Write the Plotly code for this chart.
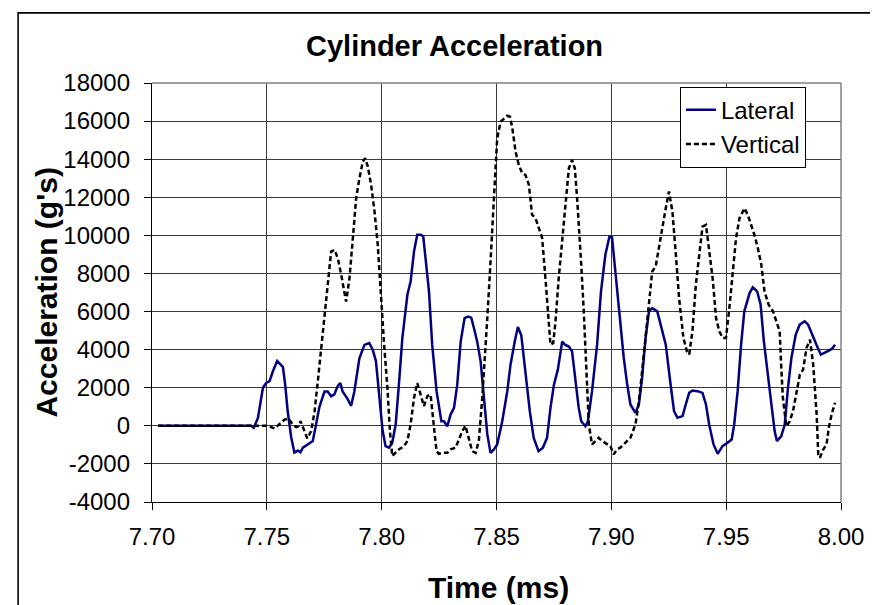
import plotly.graph_objects as go

# ---- data ----
lateral_time = [7.7026, 7.7432, 7.7443, 7.7461, 7.7483, 7.7497, 7.7512, 7.7526, 7.7545, 7.7559,
                7.7570, 7.7580, 7.7591, 7.7606, 7.7620, 7.7635, 7.7646, 7.7657, 7.7671, 7.7686,
                7.7700, 7.7714, 7.7729, 7.7751, 7.7765, 7.7780, 7.7794, 7.7809, 7.7820, 7.7830,
                7.7852, 7.7867, 7.7881, 7.7903, 7.7925, 7.7946, 7.7961, 7.7975, 7.7990, 7.8004,
                7.8017, 7.8032, 7.8046, 7.8061, 7.8075, 7.8090, 7.8112, 7.8126, 7.8141, 7.8155,
                7.8170, 7.8181, 7.8191, 7.8206, 7.8220, 7.8239, 7.8260, 7.8271, 7.8286, 7.8300,
                7.8315, 7.8329, 7.8344, 7.8361, 7.8376, 7.8390, 7.8402, 7.8416, 7.8431, 7.8445,
                7.8460, 7.8474, 7.8489, 7.8503, 7.8525, 7.8547, 7.8561, 7.8579, 7.8593, 7.8608,
                7.8626, 7.8645, 7.8662, 7.8683, 7.8702, 7.8720, 7.8735, 7.8750, 7.8767, 7.8786,
                7.8798, 7.8815, 7.8829, 7.8844, 7.8858, 7.8869, 7.8887, 7.8898, 7.8916, 7.8938,
                7.8955, 7.8974, 7.8992, 7.9003, 7.9012, 7.9025, 7.9039, 7.9054, 7.9069, 7.9083,
                7.9105, 7.9120, 7.9134, 7.9149, 7.9164, 7.9178, 7.9200, 7.9215, 7.9237, 7.9258,
                7.9273, 7.9288, 7.9310, 7.9324, 7.9339, 7.9353, 7.9375, 7.9397, 7.9412, 7.9426,
                7.9445, 7.9463, 7.9484, 7.9506, 7.9524, 7.9535, 7.9550, 7.9565, 7.9579, 7.9602,
                7.9616, 7.9635, 7.9650, 7.9664, 7.9679, 7.9696, 7.9711, 7.9721, 7.9740, 7.9755,
                7.9769, 7.9784, 7.9803, 7.9820, 7.9842, 7.9857, 7.9874, 7.9893, 7.9912, 7.9930,
                7.9947, 7.9962, 7.9974]
lateral_accel = [0, 0, -100, 400, 2000, 2250, 2350, 2850, 3400, 3250,
                 3100, 2150, 750, -600, -1400, -1300, -1400, -1150, -1050, -900,
                 -800, 50, 1000, 1800, 1800, 1550, 1650, 2100, 2250, 1800,
                 1400, 1050, 1800, 3550, 4250, 4350, 4000, 3400, 1650, -250,
                 -1066, -1150, -890, 70, 2160, 4610, 6880, 7580, 9170, 10030,
                 10030, 9950, 8800, 7060, 4260, 1820, 240, 240, -20, 590,
                 940, 2150, 4420, 5660, 5740, 5680, 5120, 4420, 3370, 1450,
                 -450, -1420, -1240, -980, 240, 1820, 3210, 4400, 5190, 4750,
                 2830, 770, -630, -1330, -1150, -630, 940, 2150, 2950, 4420,
                 4260, 4160, 3910, 2510, 940, 240, -20, 240, 1820, 4260,
                 7060, 8980, 9950, 9900, 8750, 7300, 5680, 3580, 2180, 1120,
                 680, 1120, 2520, 4610, 6010, 6180, 6010, 5310, 4260, 2170,
                 770, 420, 510, 1120, 1730, 1850, 1820, 1730, 1120, 70,
                 -980, -1470, -1070, -890, -720, 70, 1820, 4260, 6010, 6970,
                 7270, 7060, 6360, 4450, 2880, 1120, -280, -800, -540, 70,
                 1990, 3560, 4790, 5310, 5490, 5310, 4790, 4260, 3740, 3830,
                 3950, 4060, 4260]

vertical_time = [7.7026, 7.7505, 7.7534, 7.7555, 7.7577, 7.7595, 7.7613, 7.7628, 7.7638, 7.7647,
                 7.7657, 7.7667, 7.7676, 7.7693, 7.7708, 7.7722, 7.7737, 7.7751, 7.7766, 7.7780,
                 7.7795, 7.7809, 7.7824, 7.7835, 7.7845, 7.7860, 7.7874, 7.7889, 7.7903, 7.7918,
                 7.7928, 7.7940, 7.7954, 7.7969, 7.7983, 7.7996, 7.8011, 7.8025, 7.8036, 7.8046,
                 7.8061, 7.8075, 7.8097, 7.8112, 7.8126, 7.8141, 7.8155, 7.8170, 7.8184, 7.8199,
                 7.8213, 7.8228, 7.8239, 7.8249, 7.8264, 7.8286, 7.8300, 7.8322, 7.8336, 7.8351,
                 7.8365, 7.8380, 7.8394, 7.8409, 7.8423, 7.8438, 7.8448, 7.8460, 7.8474, 7.8489,
                 7.8503, 7.8518, 7.8532, 7.8547, 7.8559, 7.8569, 7.8583, 7.8597, 7.8612, 7.8626,
                 7.8641, 7.8655, 7.8670, 7.8684, 7.8699, 7.8713, 7.8723, 7.8735, 7.8747, 7.8757,
                 7.8771, 7.8786, 7.8800, 7.8815, 7.8829, 7.8841, 7.8851, 7.8860, 7.8869, 7.8880,
                 7.8892, 7.8902, 7.8916, 7.8931, 7.8945, 7.8960, 7.8982, 7.8996, 7.9010, 7.9025,
                 7.9039, 7.9054, 7.9069, 7.9083, 7.9105, 7.9120, 7.9134, 7.9149, 7.9164, 7.9178,
                 7.9193, 7.9207, 7.9222, 7.9237, 7.9251, 7.9266, 7.9280, 7.9295, 7.9314, 7.9329,
                 7.9339, 7.9353, 7.9368, 7.9383, 7.9397, 7.9412, 7.9426, 7.9441, 7.9456, 7.9470,
                 7.9485, 7.9499, 7.9514, 7.9529, 7.9543, 7.9558, 7.9580, 7.9594, 7.9609, 7.9623,
                 7.9638, 7.9653, 7.9667, 7.9685, 7.9704, 7.9718, 7.9733, 7.9740, 7.9747, 7.9762,
                 7.9777, 7.9791, 7.9806, 7.9821, 7.9835, 7.9850, 7.9865, 7.9879, 7.9894, 7.9901,
                 7.9908, 7.9923, 7.9937, 7.9947, 7.9959, 7.9974]
vertical_accel = [0, 0, -140, 70, 330, 380, 70, -70, -20, 245,
                  -70, -450, -660, -280, 770, 2340, 4090, 5840, 7760, 9150,
                  9240, 8800, 7930, 7060, 6520, 7760, 9850, 11950, 12990, 13870,
                  14050, 13610, 12650, 11250, 9500, 6900, 4200, 2000, -280, -1590,
                  -1420, -1240, -1070, -800, 70, 1470, 2250, 1640, 1030, 1560,
                  1640, -100, -1330, -1470, -1420, -1420, -1240, -1150, -720, -280,
                  0, -630, -1330, -1420, -800, 1470, 3210, 5660, 8630, 12130,
                  15090, 15970, 16140, 16280, 16230, 15620, 14400, 13700, 13260, 13170,
                  12650, 11080, 10900, 10380, 9850, 7760, 6010, 4260, 4350, 5490,
                  7760, 9850, 11600, 13520, 13960, 13520, 11950, 10380, 8450, 6010,
                  2860, 70, -980, -800, -630, -800, -940, -1070, -1500, -1240,
                  -1150, -980, -800, -630, 70, 1290, 2860, 4610, 6710, 8100,
                  8370, 9330, 10550, 11430, 12300, 11250, 9150, 6710, 4610, 3910,
                  3740, 4960, 7410, 9150, 10460, 10550, 9330, 7760, 5660, 4960,
                  4610, 4610, 6190, 8100, 9850, 10900, 11430, 11080, 10550, 10030,
                  9330, 8450, 7060, 6360, 6010, 5490, 4960, 3040, 1470, -20,
                  240, 770, 1820, 2690, 2950, 4090, 4520, 3210, 590, -1500,
                  -1680, -1240, -980, -100, 590, 1210]

series_names = ["Lateral", "Vertical"]
title_text = "Cylinder Acceleration"
x_title = "Time (ms)"
y_title = "Acceleration (g's)"
x_ticks = [7.70, 7.75, 7.80, 7.85, 7.90, 7.95, 8.00]
y_ticks = [-4000, -2000, 0, 2000, 4000, 6000, 8000, 10000, 12000, 14000, 16000, 18000]

FONT = "Arial, 'Liberation Sans', sans-serif"

fig = go.Figure()
fig.add_trace(go.Scatter(x=lateral_time, y=lateral_accel, mode="lines", name=series_names[0],
                         line=dict(color="#000080", width=2.5)))
fig.add_trace(go.Scatter(x=vertical_time, y=vertical_accel, mode="lines", name=series_names[1],
                         line=dict(color="#000000", width=2.5, dash="5px,3px")))

W, H = 878, 605
L, R, T, B = 144, 44.5, 74.7, 110.7
pw, ph = W - L - R, H - T - B

def px(x):
    return (x - L) / pw

def py(y):
    return (H - B - y) / ph

fig.update_layout(
    width=W, height=H,
    margin=dict(l=L, r=R, t=T, b=B, pad=0),
    paper_bgcolor="white", plot_bgcolor="white",
    font=dict(family=FONT, color="black", size=24),
    showlegend=True,
    legend=dict(x=px(672.3), y=py(78.3), xanchor="left", yanchor="top",
                bgcolor="white", bordercolor="black", borderwidth=1,
                font=dict(family=FONT, size=24, color="black"),
                tracegroupgap=0, itemwidth=30),
    xaxis=dict(range=[7.70, 8.00], tickvals=x_ticks, ticktext=[f"{v:.2f}" for v in x_ticks],
               showgrid=True, gridcolor="#3a3a3a", gridwidth=1,
               showline=True, linecolor="black", linewidth=1.3,
               ticks="outside", ticklen=7, tickcolor="black", tickwidth=1,
               tickfont=dict(family=FONT, size=24, color="black"),
               ticklabelstandoff=6, zeroline=False),
    yaxis=dict(range=[-4000, 18000], tickvals=y_ticks, ticktext=[str(v) for v in y_ticks],
               showgrid=True, gridcolor="#3a3a3a", gridwidth=1,
               showline=True, linecolor="black", linewidth=1.3,
               ticks="outside", ticklen=7, tickcolor="black", tickwidth=1,
               tickfont=dict(family=FONT, size=24, color="black"),
               ticklabelstandoff=9, zeroline=False),
    shapes=[
        # outer chart border (right/bottom edges fall outside the image)
        dict(type="rect", xref="paper", yref="paper", x0=px(10), x1=px(900), y0=py(640), y1=py(4.5),
             line=dict(color="black", width=1.6), fillcolor="rgba(0,0,0,0)", layer="below"),
        # plot area top and right border (gray)
        dict(type="line", xref="paper", yref="paper", x0=0, x1=1, y0=1, y1=1,
             line=dict(color="#808080", width=1.5), layer="above"),
        dict(type="line", xref="paper", yref="paper", x0=1, x1=1, y0=0, y1=1,
             line=dict(color="#808080", width=1.5), layer="above"),
    ],
    annotations=[
        dict(text=f"<b>{title_text}</b>", xref="paper", yref="paper", x=px(447), y=py(38),
             xanchor="center", yanchor="middle", showarrow=False,
             font=dict(family=FONT, size=29, color="black")),
        dict(text=f"<b>{x_title}</b>", xref="paper", yref="paper", x=px(491), y=py(580),
             xanchor="center", yanchor="middle", showarrow=False,
             font=dict(family=FONT, size=30, color="black")),
        dict(text=f"<b>{y_title}</b>", xref="paper", yref="paper", x=px(38), y=py(284.5),
             xanchor="center", yanchor="middle", showarrow=False, textangle=-90,
             font=dict(family=FONT, size=30, color="black")),
    ],
)

fig.write_html("out.html")
